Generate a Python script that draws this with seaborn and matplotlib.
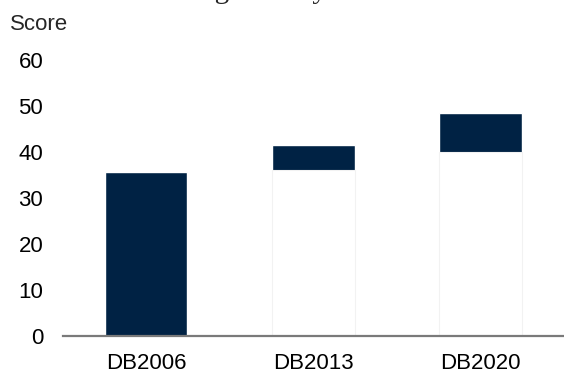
import matplotlib
matplotlib.use("Agg")
import matplotlib.pyplot as plt
import seaborn as sns
import pandas as pd

categories = ["DB2006", "DB2013", "DB2020"]
score_end = [35.6, 41.5, 48.4]
score_start = [0.0, 36.1, 39.9]
y_ticks = [0, 10, 20, 30, 40, 50, 60]

navy = "#002244"

sns.set_theme(style="white")
plt.rcParams["font.family"] = ["Liberation Sans", "DejaVu Sans"]

df = pd.DataFrame({"cat": categories, "end": score_end, "start": score_start})

fig = plt.figure(figsize=(5.64, 3.75), dpi=100)
ax = fig.add_axes([0.111, 0.104, 0.889, 0.736])

sns.barplot(data=df, x="cat", y="end", color=navy, width=0.494, saturation=1, ax=ax)
sns.barplot(data=df, x="cat", y="start", color="white", width=0.494, saturation=1,
            edgecolor="#f2f2f2", linewidth=0.8, ax=ax)

ax.set_ylim(0, 60)
ax.set_xlim(-0.5, 2.5)
ax.set_yticks(y_ticks)
ax.set_yticklabels([str(t) for t in y_ticks])
ax.set_xlabel("")
ax.set_ylabel("")
ax.tick_params(axis="y", length=0, pad=14, labelsize=16, colors="black")
ax.tick_params(axis="x", length=0, pad=12, labelsize=16, colors="black")
for s in ["left", "top", "right"]:
    ax.spines[s].set_visible(False)
ax.spines["bottom"].set_color("#7a7a7a")
ax.spines["bottom"].set_linewidth(1.6)

fig.text(10 / 564, 1 - 24 / 375, "Score", fontsize=16, ha="left", va="center")
fig.text(0.272, 1.005, "Rising steadily", family=["Liberation Serif", "DejaVu Serif"],
         fontsize=21, ha="left", va="baseline")

fig.savefig("out.png", dpi=100)
